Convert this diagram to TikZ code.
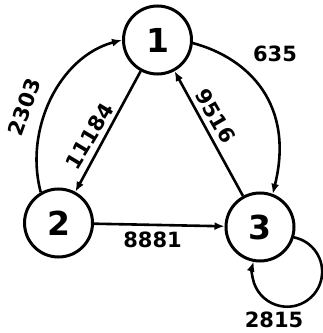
\documentclass[tikz,border=0pt]{standalone}
\usepackage{fontspec}
\setmainfont{DejaVu Sans}
\usetikzlibrary{arrows.meta}
\begin{document}
\begin{tikzpicture}[x=1pt,y=1pt,
  state/.style={circle,draw,line width=3pt,minimum size=68pt,inner sep=0pt,
    font=\fontsize{33}{33}\selectfont\bfseries},
  edge/.style={line width=2.6pt,-{Latex[length=10pt,width=8pt]}},
  weight/.style={font=\fontsize{21}{21}\selectfont\bfseries,inner sep=1pt}]
\useasboundingbox (0,0) rectangle (323,333);

% states
\node[state] (n1) at (157.5,293) {1};
\node[state] (n2) at (58.5,110) {2};
\node[state] (n3) at (260,106) {3};

% transitions
\draw[edge] (n2.120) to[out=105,in=195,distance=65pt] (n1.180);
\draw[edge] (n1) -- (n2);
\draw[edge] (n3) -- (n1);
\draw[edge] (n1.-5) to[out=-15,in=76,out distance=60pt,in distance=90pt] (n3.69);
\draw[edge] (n2) -- (n3);
\draw[edge] (n3.-17.6) arc[start angle=78.8,end angle=-196.8,radius=35];

% transition counts
\node[weight,rotate=70] (w21) at (24,226) {2303};
\node[weight,rotate=59] (w12) at (89.5,197) {11184};
\node[weight,rotate=-60] (w31) at (215.5,217) {9516};
\node[weight] (w13) at (275,279.5) {635};
\node[weight] (w23) at (152.5,93.5) {8881};
\node[weight] (w33) at (274,13) {2815};
\end{tikzpicture}
\end{document}
